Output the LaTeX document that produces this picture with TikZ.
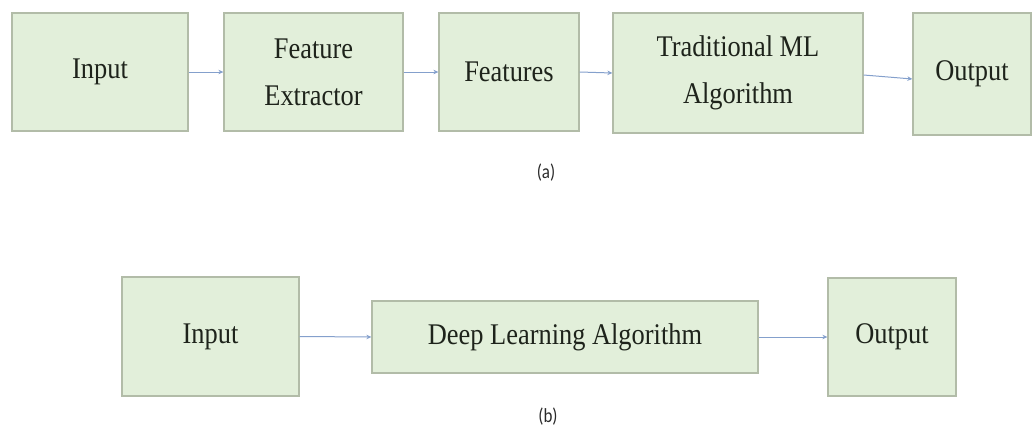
\documentclass[tikz,border=0pt]{standalone}
\usepackage{fontspec}
\setmainfont{Liberation Serif}[FakeStretch=0.88]
\newfontfamily\labfont{Carlito}[FakeStretch=0.85]
\usetikzlibrary{arrows.meta}
\definecolor{boxfill}{HTML}{E2EFDA}
\definecolor{boxline}{HTML}{B2BCA8}
\definecolor{arrowcol}{HTML}{84A0CC}
\definecolor{txtcol}{HTML}{1E231B}
\definecolor{labcol}{HTML}{2A2A2A}
\tikzset{
  stagebox/.style={draw=boxline, fill=boxfill, line width=1.3pt, inner sep=0pt,
    align=center, text=txtcol, font=\fontsize{30}{47}\selectfont},
  flowarrow/.style={draw=arrowcol, line width=1pt, -{Stealth[length=5pt,width=4.5pt]}},
  sublabel/.style={text=labcol, font=\labfont\fontsize{20}{22}\selectfont}
}
\begin{document}
\begin{tikzpicture}[x=1pt,y=-1pt]
\useasboundingbox (0,0) rectangle (1032,434);
% top row
\node[stagebox, minimum width=176pt, minimum height=118pt] (in1) at (100,72) {Input};
\node[stagebox, minimum width=179pt, minimum height=118pt] (fe) at (313.5,72) {Feature\\Extractor};
\node[stagebox, minimum width=140pt, minimum height=118pt] (feat) at (509,72) {Features};
\node[stagebox, minimum width=250pt, minimum height=120pt] (ml) at (738,73) {Traditional ML\\Algorithm};
\node[stagebox, minimum width=118pt, minimum height=122pt] (out1) at (972,74) {Output};
\draw[flowarrow] (in1.east) -- (fe.west);
\draw[flowarrow] (fe.east) -- (feat.west);
\draw[flowarrow] (feat.east) -- (ml.west);
\draw[flowarrow] ([yshift=-2pt]ml.east) -- ([yshift=-5pt]out1.west);
\node[sublabel] (la) at (546,173) {(a)};
% bottom row
\node[stagebox, minimum width=177pt, minimum height=119pt] (in2) at (210.5,336.5) {Input};
\node[stagebox, minimum width=386pt, minimum height=72pt] (dl) at (565,337) {Deep Learning Algorithm};
\node[stagebox, minimum width=128pt, minimum height=118pt] (out2) at (892,337) {Output};
\draw[flowarrow] (in2.east) -- (dl.west);
\draw[flowarrow] (dl.east) -- (out2.west);
\node[sublabel] (lb) at (548,417) {(b)};
\end{tikzpicture}
\end{document}
